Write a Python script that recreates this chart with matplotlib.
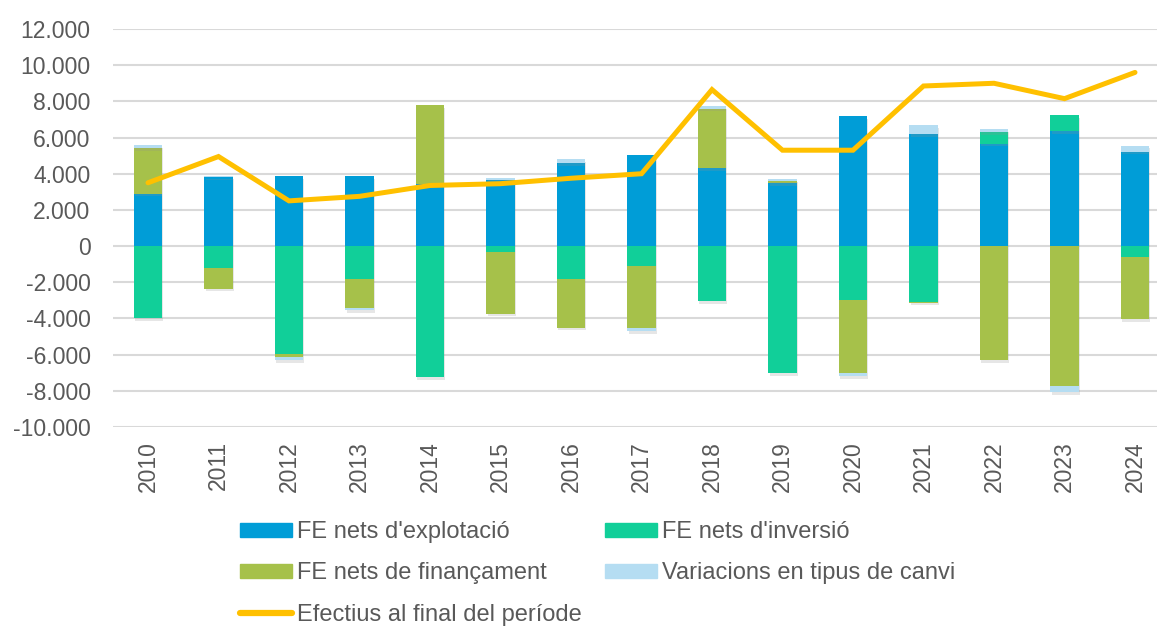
import matplotlib
matplotlib.use("Agg")
import matplotlib.pyplot as plt
import matplotlib.patheffects as pe
from matplotlib.ticker import FuncFormatter
from matplotlib.lines import Line2D
from matplotlib.patches import Patch
import numpy as np

plt.rcParams['font.family'] = ['Liberation Sans', 'DejaVu Sans']

years = ['2010', '2011', '2012', '2013', '2014', '2015', '2016', '2017',
         '2018', '2019', '2020', '2021', '2022', '2023', '2024']
explotacio = [2900, 3800, 3850, 3850, 3450, 3650, 4600, 5050, 4300, 3500, 7190, 6200, 5660, 6340, 5220]
inversio = [-4000, -1200, -5970, -1800, -7250, -330, -1800, -1100, -3050, -7000, -3000, -3080, 660, 900, -630]
financament = [2500, -1150, -180, -1600, 4350, -3400, -2700, -3400, 3300, 100, -4000, -50, -6300, -7720, -3400]
tipus_canvi = [200, 50, -150, -150, 0, 130, 200, -220, 130, 90, -180, 500, 150, -370, 330]
efectiu = [3500, 4950, 2500, 2750, 3350, 3450, 3750, 4000, 8650, 5300, 5300, 8850, 9000, 8150, 9600]

labels = ["FE nets d'explotació", "FE nets d'inversió", "FE nets de finançament",
          "Variacions en tipus de canvi", "Efectius al final del període"]
colors = ['#009DD7', '#11CF99', '#A6C14A', '#B5DDF2']
line_color = '#FFC000'
text_color = '#595959'

W, H = 1157, 628
fig = plt.figure(figsize=(W / 100, H / 100), dpi=100)
ax_left, ax_right, ax_top, ax_bottom = 112.75, 1170.25, 29, 427
ax = fig.add_axes([ax_left / W, 1 - ax_bottom / H, (ax_right - ax_left) / W, (ax_bottom - ax_top) / H])

x = np.arange(len(years))
series = [explotacio, inversio, financament, tipus_canvi]
pos_base = np.zeros(len(years))
neg_base = np.zeros(len(years))
shadow = [pe.SimplePatchShadow(offset=(0.8, -2.0), shadow_rgbFace='#909090', alpha=0.22), pe.Normal()]
for vals, c in zip(series, colors):
    v = np.array(vals, dtype=float)
    bottoms = np.where(v >= 0, pos_base, neg_base)
    bars = ax.bar(x, v, width=0.4, bottom=bottoms, color=c, zorder=2, linewidth=0)
    for b in bars:
        b.set_path_effects(shadow)
    pos_base = pos_base + np.where(v >= 0, v, 0)
    neg_base = neg_base + np.where(v < 0, v, 0)

ax.plot(x, efectiu, color=line_color, linewidth=3.6, solid_capstyle='round',
        solid_joinstyle='miter', zorder=4)

ax.set_xlim(-0.5, len(years) - 0.5)
ax.set_ylim(-10000, 12000)
ax.set_yticks(np.arange(-10000, 12001, 2000))
ax.yaxis.set_major_formatter(FuncFormatter(lambda v, p: f"{v:,.0f}".replace(",", ".")))
ax.set_xticks(x)
ax.set_xticklabels(years, rotation=90)
ax.grid(axis='y', color='#D9D9D9', linewidth=1.5, zorder=0)
ax.set_axisbelow(True)
for s in ax.spines.values():
    s.set_visible(False)
ax.tick_params(axis='y', length=0, pad=16, labelsize=16.5, labelcolor=text_color)
ax.tick_params(axis='x', length=0, pad=10, labelsize=16.5, labelcolor=text_color)

handles = [Patch(color=colors[0]), Patch(color=colors[2]),
           Line2D([0], [0], color=line_color, linewidth=4.5, solid_capstyle='round'),
           Patch(color=colors[1]), Patch(color=colors[3])]
hlabels = [labels[0], labels[2], labels[4], labels[1], labels[3]]
fig.legend(handles, hlabels, ncol=2, loc='upper left',
           bbox_to_anchor=(240 / W, 1 - 521 / H), frameon=False,
           fontsize=17, labelcolor=text_color, handlelength=2.2, handleheight=0.55,
           handletextpad=0.2, columnspacing=1.0, labelspacing=0.82, borderpad=0, borderaxespad=0)

fig.savefig('out.png', dpi=100)
